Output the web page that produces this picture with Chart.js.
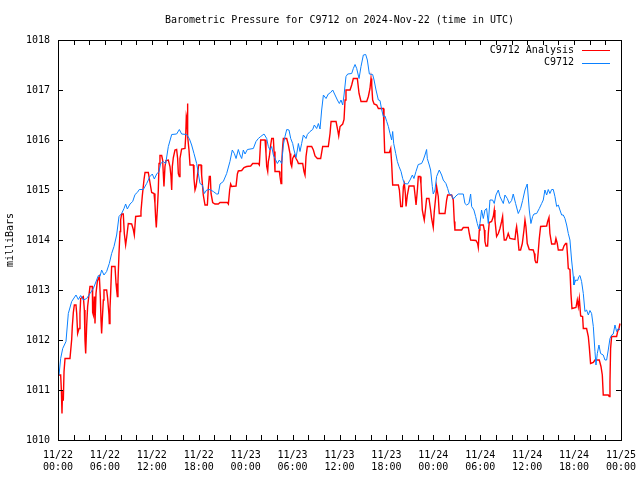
<!DOCTYPE html>
<html>
<head>
<meta charset="utf-8">
<script src="https://cdn.jsdelivr.net/npm/chart.js@4.4.1/dist/chart.umd.min.js"></script>
<style>
  html, body { margin: 0; padding: 0; background: #fff; }
  #c { display: block; }
</style>
</head>
<body>
<canvas id="c" width="640" height="480"></canvas>
<script>
// values, hours since 11/22 00:00 UTC
const analysisHours = [0.13,0.34,0.43,0.51,0.55,0.68,0.77,0.90,1.53,1.75,1.83,1.96,2.09,2.30,2.39,2.51,2.69,2.81,2.90,3.24,3.37,3.45,3.54,3.67,3.79,3.96,4.09,4.39,4.43,4.52,4.65,4.73,4.86,5.03,5.16,5.29,5.41,5.50,5.58,5.67,5.80,5.88,6.22,6.35,6.52,6.56,6.65,6.73,6.86,7.29,7.42,7.50,7.59,7.67,7.80,7.93,8.01,8.14,8.35,8.48,8.65,8.78,8.99,9.42,9.63,9.76,9.93,10.49,10.61,10.78,11.00,11.13,11.55,11.76,11.98,12.28,12.40,12.49,12.57,12.70,12.83,12.92,13.04,13.26,13.38,13.55,13.68,13.81,14.11,14.32,14.45,14.54,14.62,14.75,14.96,15.17,15.30,15.39,15.52,15.60,15.81,16.24,16.33,16.41,16.50,16.54,16.62,16.75,16.88,17.31,17.39,17.52,17.65,17.82,17.99,18.29,18.37,18.58,18.80,19.10,19.22,19.35,19.48,19.57,19.78,20.08,20.50,20.72,21.66,21.79,21.96,22.08,22.21,22.77,22.94,23.06,23.49,23.79,24.13,24.64,24.90,25.62,25.75,25.92,26.48,26.60,26.69,26.82,26.90,27.03,27.20,27.33,27.54,27.63,27.75,28.31,28.39,28.52,28.61,28.73,28.82,29.25,29.46,29.67,29.76,29.89,30.01,30.23,30.44,30.65,30.74,31.29,31.46,31.59,31.72,31.89,32.44,32.66,32.87,33.17,33.59,33.85,34.57,34.79,34.92,35.56,35.77,35.90,36.07,36.41,36.58,36.71,36.83,37.35,37.56,37.77,38.28,38.50,38.75,39.48,39.69,39.90,40.03,40.12,40.24,40.42,40.76,40.97,41.61,41.69,41.78,42.38,42.55,42.67,42.80,43.53,43.66,43.83,44.04,44.17,44.29,44.42,44.51,44.68,44.89,45.53,45.66,45.79,45.96,46.08,46.30,46.42,46.59,46.71,46.84,47.01,47.14,47.44,47.65,47.78,47.99,48.12,48.33,48.42,48.63,48.76,49.49,49.70,49.83,50.34,50.55,50.68,50.76,51.62,51.83,52.47,52.60,52.77,53.45,53.66,53.75,53.88,53.96,54.39,54.52,54.60,54.73,54.94,55.03,55.15,55.45,55.67,55.79,55.88,56.09,56.31,56.52,56.73,56.86,56.95,57.07,57.29,57.46,57.58,57.80,58.44,58.57,58.65,58.78,58.95,59.16,59.38,59.59,59.72,59.84,60.01,60.27,60.78,60.91,61.00,61.12,61.29,61.42,61.55,61.72,62.49,62.62,62.79,62.91,63.13,63.55,63.68,63.85,63.98,64.53,64.70,64.92,65.05,65.17,65.26,65.47,65.60,65.73,66.24,66.41,66.54,66.67,66.84,67.09,67.18,67.60,67.82,67.94,68.11,68.46,68.67,68.88,69.22,69.44,69.61,69.73,70.37,70.50,70.59,70.67,70.80,71.44,71.57,71.74,71.87];
const analysisValues = [1011.30,1011.30,1011.00,1010.53,1010.80,1010.80,1011.37,1011.63,1011.63,1012.01,1012.27,1012.55,1012.70,1012.70,1012.53,1012.13,1012.23,1012.53,1012.83,1012.87,1012.60,1012.00,1011.73,1012.30,1012.67,1012.90,1013.07,1013.07,1012.55,1012.50,1012.87,1012.33,1012.93,1013.17,1013.23,1013.27,1012.87,1012.40,1012.13,1012.43,1012.80,1013.00,1013.00,1012.83,1012.50,1012.33,1012.63,1012.93,1013.47,1013.47,1013.13,1013.00,1012.87,1013.17,1013.73,1014.17,1014.40,1014.52,1014.52,1014.13,1013.90,1014.05,1014.33,1014.32,1014.21,1014.10,1014.47,1014.48,1014.57,1014.88,1015.21,1015.35,1015.35,1015.15,1014.95,1014.93,1014.73,1014.43,1014.25,1014.60,1015.00,1015.53,1015.69,1015.69,1015.60,1015.07,1015.47,1015.59,1015.60,1015.47,1015.27,1015.00,1015.47,1015.65,1015.80,1015.81,1015.63,1015.33,1015.27,1015.63,1015.82,1015.83,1016.07,1016.48,1016.41,1016.73,1016.07,1015.80,1015.50,1015.50,1015.23,1015.00,1015.07,1015.27,1015.50,1015.50,1015.30,1014.90,1014.70,1014.70,1015.03,1015.27,1015.27,1014.93,1014.75,1014.72,1014.72,1014.75,1014.75,1014.72,1015.01,1015.12,1015.07,1015.08,1015.32,1015.38,1015.39,1015.45,1015.47,1015.48,1015.53,1015.53,1015.50,1016.00,1016.00,1015.73,1015.47,1015.37,1015.57,1015.67,1015.90,1016.03,1016.03,1015.77,1015.37,1015.37,1015.27,1015.13,1015.53,1015.87,1016.03,1016.03,1015.90,1015.73,1015.53,1015.47,1015.63,1015.70,1015.63,1015.57,1015.53,1015.53,1015.37,1015.30,1015.67,1015.87,1015.87,1015.80,1015.68,1015.63,1015.63,1015.87,1015.87,1016.13,1016.37,1016.37,1016.20,1016.08,1016.27,1016.32,1016.41,1016.80,1017.00,1017.00,1017.10,1017.23,1017.23,1016.93,1016.77,1016.77,1016.87,1017.03,1017.23,1017.10,1016.80,1016.72,1016.70,1016.63,1016.63,1016.20,1015.75,1015.75,1015.83,1015.53,1015.10,1015.10,1015.00,1014.67,1014.67,1015.07,1015.13,1014.93,1014.67,1014.90,1015.08,1015.08,1014.90,1014.70,1015.00,1015.27,1015.27,1015.12,1014.60,1014.50,1014.40,1014.63,1014.83,1014.83,1014.60,1014.43,1014.25,1014.57,1014.90,1015.07,1014.87,1014.53,1014.53,1014.80,1014.90,1014.90,1014.80,1014.37,1014.20,1014.20,1014.25,1014.25,1014.13,1014.00,1013.99,1013.93,1013.85,1014.20,1014.30,1014.30,1014.20,1013.97,1013.88,1013.88,1014.13,1014.35,1014.37,1014.47,1014.60,1014.40,1014.07,1014.13,1014.23,1014.37,1014.47,1014.20,1014.00,1014.00,1014.07,1014.13,1014.03,1014.01,1014.20,1014.27,1014.10,1013.80,1013.80,1013.93,1014.20,1014.40,1014.27,1013.93,1013.81,1013.80,1013.73,1013.60,1013.55,1013.55,1013.77,1014.03,1014.27,1014.28,1014.37,1014.45,1014.13,1013.92,1013.92,1014.03,1013.93,1013.80,1013.80,1013.88,1013.93,1013.93,1013.67,1013.43,1013.41,1012.93,1012.63,1012.65,1012.80,1012.67,1012.83,1012.48,1012.47,1012.23,1012.23,1012.07,1011.87,1011.53,1011.55,1011.60,1011.60,1011.60,1011.47,1011.30,1010.90,1010.90,1010.87,1011.17,1011.83,1012.07,1012.07,1012.17,1012.23,1012.33];

const stationHours = [0.13,0.34,0.60,1.02,1.32,1.75,2.30,2.60,2.90,3.24,3.67,4.09,4.52,4.94,5.16,5.37,5.58,5.88,6.22,6.56,6.86,7.16,7.50,7.80,8.14,8.44,8.65,8.87,9.21,9.55,9.85,10.14,10.40,10.91,11.34,11.76,12.06,12.32,12.62,12.92,13.13,13.47,13.77,14.11,14.54,15.17,15.52,15.81,16.45,16.79,17.09,17.39,17.73,17.95,18.16,18.46,18.71,19.01,19.44,19.86,20.29,20.50,20.72,21.14,21.57,21.99,22.29,22.55,22.77,23.06,23.28,23.49,23.70,23.92,24.22,24.98,25.32,25.62,25.92,26.35,26.69,26.90,27.11,27.33,27.54,27.75,28.05,28.31,28.61,28.82,29.03,29.25,29.54,29.76,30.01,30.18,30.44,30.61,30.74,30.95,31.16,31.38,31.72,31.89,32.23,32.57,32.78,33.08,33.30,33.51,33.72,33.94,34.28,34.57,34.87,35.13,35.43,35.73,35.98,36.19,36.41,36.58,36.83,37.05,37.56,37.77,37.99,38.20,38.50,38.75,39.05,39.35,39.56,39.82,40.24,40.42,40.67,40.97,41.18,41.40,41.61,41.82,42.04,42.25,42.46,42.67,42.80,42.93,43.19,43.40,43.61,43.87,44.08,44.29,44.72,45.02,45.32,45.52,45.78,46.07,46.50,46.71,46.93,47.14,47.23,47.48,47.65,47.87,47.99,48.21,48.42,48.76,49.06,49.27,49.61,49.83,50.04,50.34,50.55,50.89,51.19,51.83,52.04,52.26,52.55,52.77,52.90,53.19,53.41,53.62,53.83,53.96,54.17,54.39,54.60,54.81,55.03,55.24,55.58,55.79,56.01,56.31,56.52,56.73,56.95,57.16,57.46,57.71,58.01,58.22,58.52,58.86,59.16,59.42,59.72,60.01,60.27,60.48,60.70,60.87,61.21,61.55,61.85,62.06,62.27,62.49,62.70,62.91,63.13,63.34,63.55,63.77,63.98,64.19,64.41,64.62,64.83,65.05,65.26,65.47,65.68,65.90,65.98,66.20,66.45,66.62,66.75,66.96,67.18,67.39,67.60,67.82,68.03,68.24,68.46,68.67,68.80,68.97,69.18,69.39,69.73,69.95,70.16,70.37,70.59,70.80,71.01,71.23,71.44,71.65,71.87];
const stationValues = [1011.30,1011.63,1011.83,1011.97,1012.53,1012.77,1012.90,1012.81,1012.89,1012.80,1012.83,1012.93,1013.03,1013.20,1013.29,1013.27,1013.40,1013.30,1013.37,1013.53,1013.73,1013.87,1014.10,1014.47,1014.53,1014.63,1014.72,1014.62,1014.72,1014.77,1014.91,1014.95,1015.01,1015.01,1015.13,1015.27,1015.32,1015.22,1015.32,1015.37,1015.53,1015.57,1015.53,1015.87,1016.11,1016.12,1016.21,1016.12,1016.11,1016.03,1015.90,1015.73,1015.53,1015.33,1015.13,1015.10,1014.93,1015.00,1015.01,1014.97,1014.92,1014.92,1015.12,1015.17,1015.33,1015.57,1015.80,1015.73,1015.63,1015.81,1015.70,1015.63,1015.80,1015.72,1015.81,1015.83,1015.97,1016.03,1016.07,1016.12,1016.03,1015.87,1015.80,1015.87,1015.70,1015.63,1015.53,1015.60,1015.53,1015.90,1016.07,1016.21,1016.20,1016.03,1015.93,1015.80,1015.65,1015.80,1015.93,1015.77,1015.93,1016.10,1016.03,1016.11,1016.17,1016.21,1016.30,1016.23,1016.33,1016.22,1016.60,1016.90,1016.83,1016.92,1016.95,1017.00,1016.90,1016.80,1016.73,1016.80,1016.70,1016.90,1017.27,1017.32,1017.33,1017.43,1017.51,1017.43,1017.23,1017.47,1017.70,1017.71,1017.60,1017.32,1017.31,1017.20,1017.00,1016.80,1016.79,1016.60,1016.47,1016.48,1016.37,1016.27,1016.13,1016.00,1016.17,1015.93,1015.73,1015.57,1015.47,1015.37,1015.23,1015.13,1015.12,1015.20,1015.30,1015.23,1015.37,1015.51,1015.53,1015.60,1015.70,1015.81,1015.63,1015.50,1015.40,1015.07,1014.92,1015.00,1015.27,1015.40,1015.30,1015.20,1015.13,1015.03,1014.92,1014.90,1014.82,1014.88,1014.92,1014.92,1014.73,1014.70,1014.73,1014.92,1014.67,1014.60,1014.47,1014.33,1014.22,1014.33,1014.60,1014.43,1014.60,1014.63,1014.33,1014.80,1014.80,1014.73,1014.90,1015.00,1014.87,1014.80,1014.73,1014.90,1014.83,1014.73,1014.79,1014.92,1014.73,1014.53,1014.63,1014.79,1015.00,1015.12,1014.60,1014.33,1014.47,1014.52,1014.53,1014.63,1014.73,1014.80,1015.00,1014.90,1015.01,1014.93,1015.01,1015.01,1014.87,1014.67,1014.70,1014.60,1014.50,1014.50,1014.43,1014.30,1014.13,1014.00,1013.60,1013.27,1013.10,1013.20,1013.19,1013.27,1013.29,1013.17,1012.93,1012.57,1012.60,1012.50,1012.59,1012.53,1012.27,1011.77,1011.50,1011.73,1011.90,1011.73,1011.70,1011.60,1011.60,1011.80,1012.03,1012.10,1012.12,1012.30,1012.17,1012.23,1012.20];

const tickDates = ['11/22','11/22','11/22','11/22','11/23','11/23','11/23','11/23','11/24','11/24','11/24','11/24','11/25'];
const tickTimes = ['00:00','06:00','12:00','18:00','00:00','06:00','12:00','18:00','00:00','06:00','12:00','18:00','00:00'];

const FONT = '"DejaVu Sans Mono", "Liberation Mono", monospace';

function toPoints(hours, values) {
  return hours.map((h, i) => ({ x: h, y: values[i] }));
}

// gnuplot look: frame, inward mirrored ticks, title and legend in the top-right
const gnuFrame = {
  id: 'gnuFrame',
  afterDraw(chart) {
    const { ctx, chartArea: a, scales } = chart;
    const x = scales.x, y = scales.y;
    const L = 5;
    ctx.save();
    ctx.strokeStyle = '#000';
    ctx.lineWidth = 1;
    ctx.beginPath();
    x.ticks.forEach(t => {
      const px = Math.round(x.getPixelForValue(t.value)) + 0.5;
      ctx.moveTo(px, a.bottom); ctx.lineTo(px, a.bottom - L);
      ctx.moveTo(px, a.top); ctx.lineTo(px, a.top + L);
    });
    y.ticks.forEach(t => {
      const py = Math.round(y.getPixelForValue(t.value)) + 0.5;
      ctx.moveTo(a.left, py); ctx.lineTo(a.left + L, py);
      ctx.moveTo(a.right, py); ctx.lineTo(a.right - L, py);
    });
    ctx.stroke();
    ctx.strokeRect(Math.round(a.left) + 0.5, Math.round(a.top) + 0.5,
                   Math.round(a.right - a.left), Math.round(a.bottom - a.top));

    ctx.fillStyle = '#000';
    ctx.font = '10px ' + FONT;
    ctx.textBaseline = 'middle';
    ctx.textAlign = 'center';
    ctx.fillText('Barometric Pressure for C9712 on 2024-Nov-22 (time in UTC)', (a.left + a.right) / 2, 20);

    ctx.textAlign = 'right';
    chart.data.datasets.forEach((ds, i) => {
      const ly = a.top + 10 + i * 12.5;
      ctx.fillText(ds.label, a.right - 47, ly);
      ctx.strokeStyle = ds.borderColor;
      ctx.lineWidth = 1;
      ctx.beginPath();
      ctx.moveTo(a.right - 39, Math.round(ly) + 0.5);
      ctx.lineTo(a.right - 11, Math.round(ly) + 0.5);
      ctx.stroke();
    });
    ctx.restore();
  }
};

new Chart(document.getElementById('c'), {
  type: 'line',
  data: {
    datasets: [
      {
        label: 'C9712 Analysis',
        data: toPoints(analysisHours, analysisValues),
        borderColor: '#ff0000',
        borderWidth: 1.4,
        pointRadius: 0,
        tension: 0,
        order: 1
      },
      {
        label: 'C9712',
        data: toPoints(stationHours, stationValues),
        borderColor: '#0a80ff',
        borderWidth: 1,
        pointRadius: 0,
        tension: 0,
        order: 0
      }
    ]
  },
  options: {
    responsive: false,
    animation: false,
    devicePixelRatio: 1,
    layout: { padding: { top: 40, right: 19, left: 0, bottom: 0 } },
    plugins: {
      legend: { display: false },
      title: { display: false },
      tooltip: { enabled: false }
    },
    scales: {
      x: {
        type: 'linear',
        min: 0,
        max: 72,
        afterFit: s => { s.height = 40; s.paddingLeft = 0; s.paddingRight = 0; },
        grid: { display: false, drawTicks: false },
        border: { display: false },
        ticks: {
          stepSize: 2,
          autoSkip: false,
          maxRotation: 0,
          padding: 9,
          color: '#000',
          font: { family: FONT, size: 10, lineHeight: 1.25 },
          callback: v => {
            const h = Math.round(v);
            return h % 6 === 0 ? [tickDates[h / 6], tickTimes[h / 6]] : '';
          }
        }
      },
      y: {
        min: 1010,
        max: 1018,
        afterFit: s => { s.width = 58; },
        grid: { display: false, drawTicks: false },
        border: { display: false },
        title: {
          display: true,
          text: 'milliBars',
          color: '#000',
          font: { family: FONT, size: 10 },
          padding: { top: 4, bottom: 0 }
        },
        ticks: {
          stepSize: 1,
          padding: 8,
          color: '#000',
          font: { family: FONT, size: 10 },
          callback: v => String(v)
        }
      }
    }
  },
  plugins: [gnuFrame]
});
</script>
</body>
</html>
